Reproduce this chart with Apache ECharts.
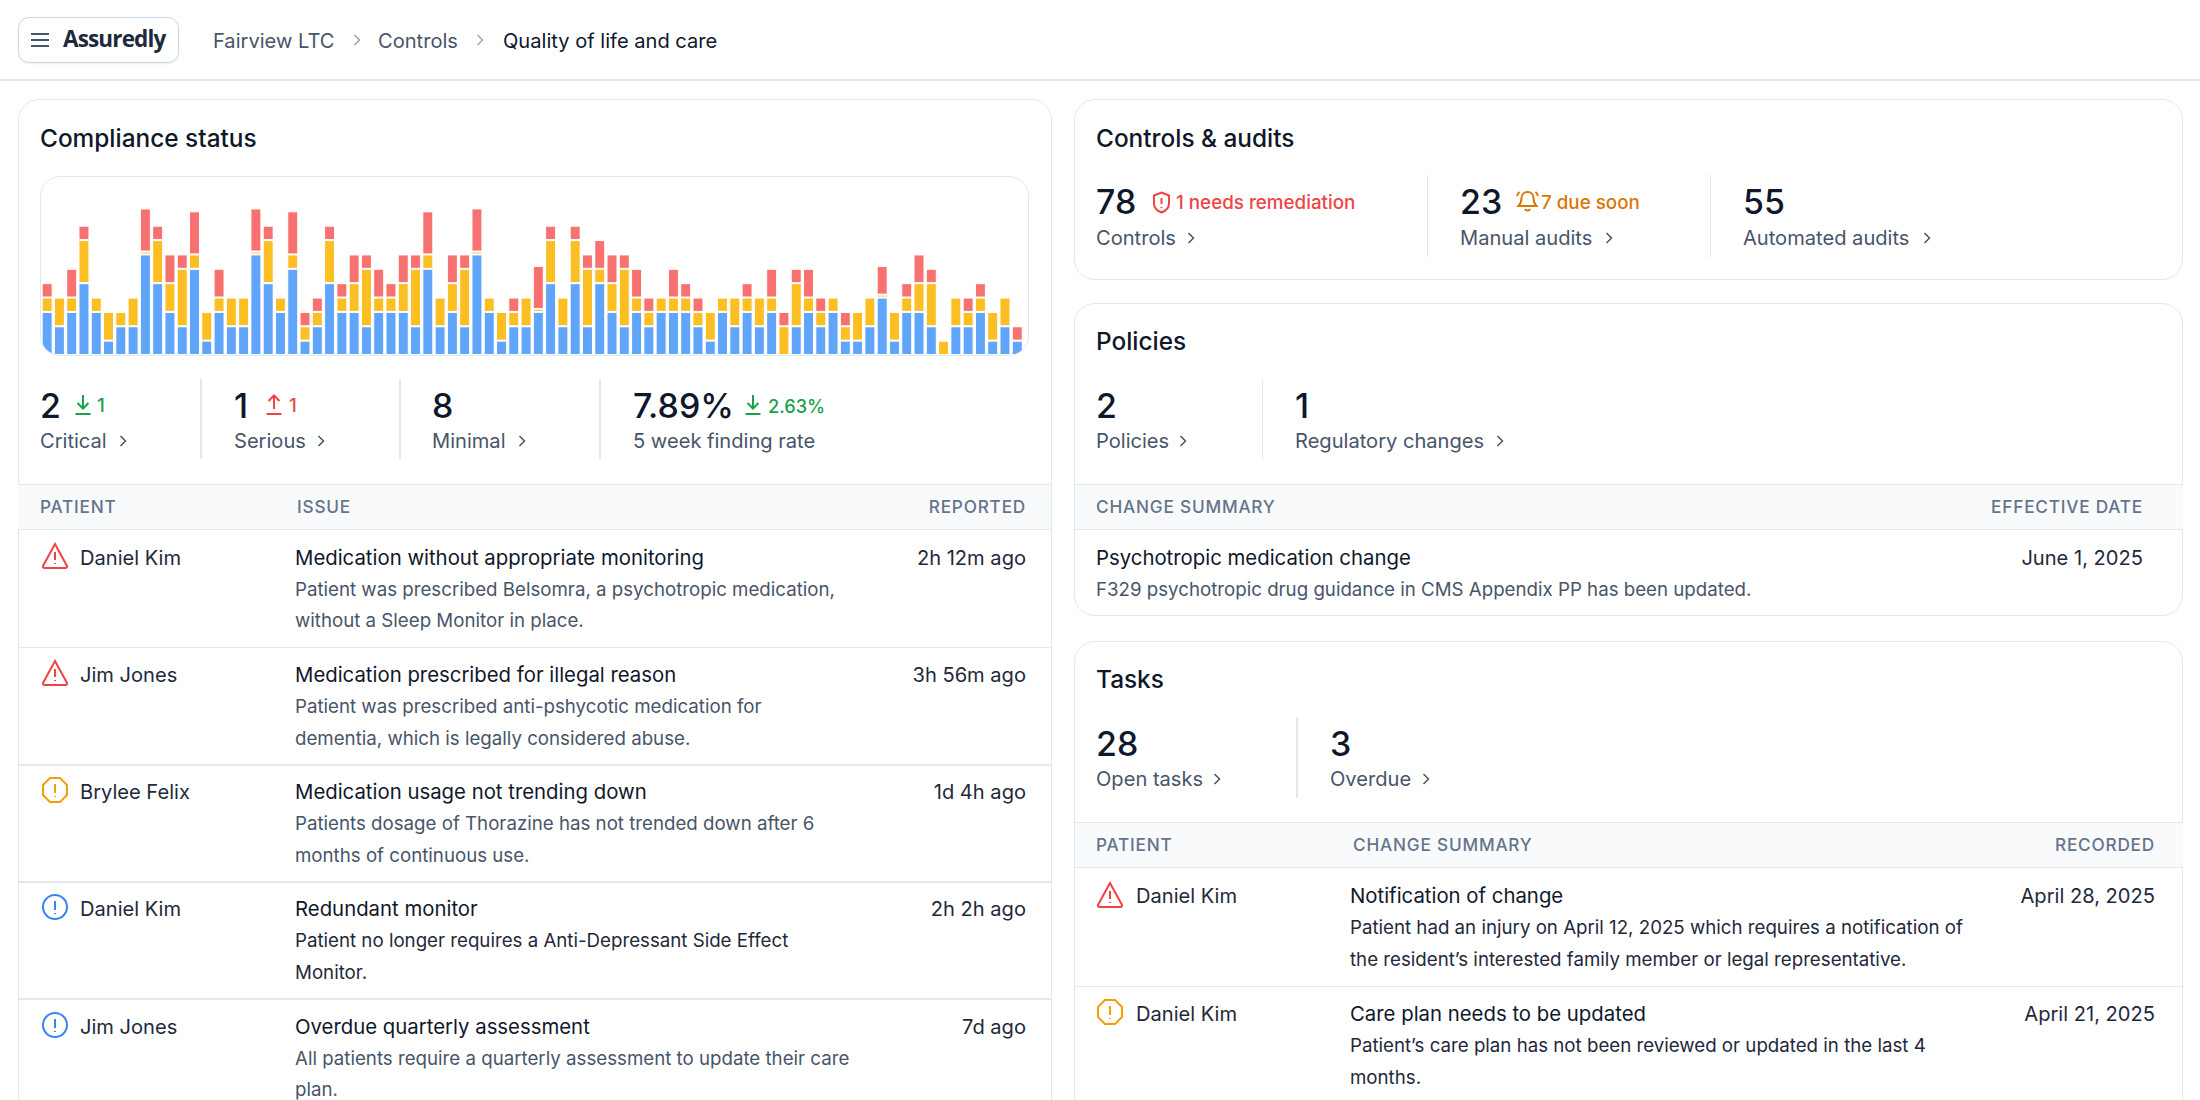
<!DOCTYPE html>
<html>
<head>
<meta charset="utf-8">
<title>Assuredly - Quality of life and care</title>
<script src="https://cdn.jsdelivr.net/npm/echarts@6/dist/echarts.min.js"></script>
<style>
  html, body { margin: 0; padding: 0; width: 2200px; height: 1100px; overflow: hidden; background: #fff; }
  body { font-family: Inter, "Noto Sans", sans-serif; color: #0f172a; position: relative; }
  .t { position: absolute; white-space: nowrap; transform: translateY(-50%); line-height: 1; font-size: 20.1px; }
  .r { text-align: right; }
  .title { font-size: 24.4px; font-weight: 500; }
  .num { font-size: 33.9px; font-weight: 500; }
  .label { color: #475569; }
  .head { font-size: 17.2px; font-weight: 500; letter-spacing: 0.8px; color: #64748b; }
  .name { color: #1e293b; }
  .issue { font-size: 20.35px; }
  .sub { font-size: 18.7px; color: #475569; }
  .dark { color: #1e293b; }
  .delta { font-size: 18.8px; font-weight: 500; }
  .green { color: #16a34a; }
  .red { color: #ef4444; }
  .orange { color: #d97706; }
  .card { position: absolute; box-sizing: border-box; border: 1.5px solid #e2e8f0; border-radius: 21px; background: #fff; }
  .hline { position: absolute; height: 1.5px; background: #e2e8f0; }
  .vline { position: absolute; width: 1.5px; background: #e2e8f0; }
  .band { position: absolute; background: #f8fafc; border-top: 1.5px solid #e2e8f0; border-bottom: 1.5px solid #e2e8f0; box-sizing: border-box; }
  svg { position: absolute; fill: none; }
  #frame { position: absolute; left: 40px; top: 176px; width: 989px; height: 180px; box-sizing: border-box; border: 1.5px solid #e2e8f0; border-radius: 20px; overflow: hidden; }
  #chart { position: absolute; left: 0; top: 0; width: 986px; height: 178px; }
</style>
</head>
<body>

<!-- top bar -->
<div class="hline" style="left:0;right:0;top:79px"></div>
<div style="position:absolute;left:18px;top:17px;width:161px;height:46px;box-sizing:border-box;border:1.5px solid #cbd5e1;border-radius:11px;box-shadow:0 1px 2px rgba(15,23,42,.08)"></div>
<svg style="left:31px;top:32px" width="18" height="16" stroke="#475569" stroke-width="2"><path d="M0 2h18M0 8h18M0 14h18"/></svg>
<div class="t" style="left:63px;top:39px;font-family:'Open Sans';font-size:22.5px;font-weight:700;letter-spacing:-0.85px;color:#1e293b">Assuredly</div>
<div class="t label" style="left:213px;top:40.500px">Fairview LTC</div>
<svg style="left:353px;top:34px" width="8" height="12" stroke="#94a3b8" stroke-width="1.5"><path d="M1.500 1l5 5-5 5"/></svg>
<div class="t label" style="left:378px;top:40.500px">Controls</div>
<svg style="left:476px;top:34px" width="8" height="12" stroke="#94a3b8" stroke-width="1.5"><path d="M1.500 1l5 5-5 5"/></svg>
<div class="t" style="left:503px;top:40.500px">Quality of life and care</div>

<!-- compliance status card -->
<div class="card" style="left:17.5px;top:99px;width:1034px;height:1040px"></div>
<div class="t title" style="left:40px;top:137.500px">Compliance status</div>
<div id="frame"><div id="chart"></div></div>

<div class="t num" style="left:40px;top:406px">2</div>
<svg style="left:74px;top:394px" width="18" height="22" stroke="#16a34a" stroke-width="2"><path d="M9 1v13M3.500 9L9 14.500 14.500 9M1.500 20h15"/></svg>
<div class="t delta green" style="left:97px;top:406px">1</div>
<div class="t label" style="left:40px;top:441px">Critical</div>
<svg style="left:119px;top:435px" width="8" height="12" stroke="#475569" stroke-width="1.5"><path d="M1.500 1l5 5-5 5"/></svg>
<div class="vline" style="left:200px;top:379px;height:80px"></div>

<div class="t num" style="left:234px;top:406px">1</div>
<svg style="left:265px;top:394px" width="18" height="22" stroke="#ef4444" stroke-width="2"><path d="M9 15V2M3.500 7L9 1.500 14.500 7M1.500 20h15"/></svg>
<div class="t delta red" style="left:289px;top:406px">1</div>
<div class="t label" style="left:234px;top:441px">Serious</div>
<svg style="left:317px;top:435px" width="8" height="12" stroke="#475569" stroke-width="1.5"><path d="M1.500 1l5 5-5 5"/></svg>
<div class="vline" style="left:399px;top:379px;height:80px"></div>

<div class="t num" style="left:432px;top:406px">8</div>
<div class="t label" style="left:432px;top:441px">Minimal</div>
<svg style="left:518px;top:435px" width="8" height="12" stroke="#475569" stroke-width="1.5"><path d="M1.500 1l5 5-5 5"/></svg>
<div class="vline" style="left:599px;top:379px;height:80px"></div>

<div class="t num" style="left:633px;top:406px">7.89%</div>
<svg style="left:744px;top:394px" width="18" height="22" stroke="#16a34a" stroke-width="2"><path d="M9 1v13M3.500 9L9 14.500 14.500 9M1.500 20h15"/></svg>
<div class="t delta green" style="left:768px;top:406px;font-size:18.2px">2.63%</div>
<div class="t label" style="left:633px;top:441px">5 week finding rate</div>

<div class="band" style="left:18px;top:484px;width:1033px;height:46px"></div>
<div class="t head" style="left:40px;top:507px">PATIENT</div>
<div class="t head" style="left:297px;top:507px">ISSUE</div>
<div class="t head r" style="right:1174px;top:507px">REPORTED</div>

<svg style="left:41px;top:542px" width="28" height="28" stroke="#ef4444" stroke-width="2"><path d="M14 2L26 24a1.500 1.500 0 0 1-1.500 2h-21a1.500 1.500 0 0 1-1.500-2z M14 10v8M14 21v1"/></svg>
<div class="t name" style="left:80px;top:558px">Daniel Kim</div>
<div class="t issue" style="left:295px;top:558px">Medication without appropriate monitoring</div>
<div class="t sub" style="left:295px;top:589.500px">Patient was prescribed Belsomra, a psychotropic medication,</div>
<div class="t sub" style="left:295px;top:620.500px">without a Sleep Monitor in place.</div>
<div class="t r name" style="right:1174px;top:558px">2h 12m ago</div>
<div class="hline" style="left:18px;width:1033px;top:646.500px"></div>

<svg style="left:41px;top:659px" width="28" height="28" stroke="#ef4444" stroke-width="2"><path d="M14 2L26 24a1.500 1.500 0 0 1-1.500 2h-21a1.500 1.500 0 0 1-1.500-2z M14 10v8M14 21v1"/></svg>
<div class="t name" style="left:80px;top:675px">Jim Jones</div>
<div class="t issue" style="left:295px;top:675px">Medication prescribed for illegal reason</div>
<div class="t sub" style="left:295px;top:706.500px">Patient was prescribed anti-pshycotic medication for</div>
<div class="t sub" style="left:295px;top:738.500px">dementia, which is legally considered abuse.</div>
<div class="t r name" style="right:1174px;top:675px">3h 56m ago</div>
<div class="hline" style="left:18px;width:1033px;top:764px"></div>

<svg style="left:41px;top:776px" width="28" height="28" stroke="#f59e0b" stroke-width="2"><path d="M9 2h10l7 7v10l-7 7H9l-7-7V9z M14 8v9M14 20v1"/></svg>
<div class="t name" style="left:80px;top:792px">Brylee Felix</div>
<div class="t issue" style="left:295px;top:792px">Medication usage not trending down</div>
<div class="t sub" style="left:295px;top:823.500px">Patients dosage of Thorazine has not trended down after 6</div>
<div class="t sub" style="left:295px;top:855.500px">months of continuous use.</div>
<div class="t r name" style="right:1174px;top:792px">1d 4h ago</div>
<div class="hline" style="left:18px;width:1033px;top:881px"></div>

<svg style="left:41px;top:893px" width="28" height="28" stroke="#3b82f6" stroke-width="2"><circle cx="14" cy="14" r="12"/><path d="M14 8v9M14 20v1"/></svg>
<div class="t name" style="left:80px;top:909px">Daniel Kim</div>
<div class="t issue" style="left:295px;top:909px">Redundant monitor</div>
<div class="t sub dark" style="left:295px;top:940.500px">Patient no longer requires a Anti-Depressant Side Effect</div>
<div class="t sub dark" style="left:295px;top:972.500px">Monitor.</div>
<div class="t r name" style="right:1174px;top:909px">2h 2h ago</div>
<div class="hline" style="left:18px;width:1033px;top:998px"></div>

<svg style="left:41px;top:1011px" width="28" height="28" stroke="#3b82f6" stroke-width="2"><circle cx="14" cy="14" r="12"/><path d="M14 8v9M14 20v1"/></svg>
<div class="t name" style="left:80px;top:1027px">Jim Jones</div>
<div class="t issue" style="left:295px;top:1027px">Overdue quarterly assessment</div>
<div class="t sub" style="left:295px;top:1058.500px">All patients require a quarterly assessment to update their care</div>
<div class="t sub" style="left:295px;top:1089.500px">plan.</div>
<div class="t r name" style="right:1174px;top:1027px">7d ago</div>

<!-- controls and audits card -->
<div class="card" style="left:1074px;top:99px;width:1109px;height:181px"></div>
<div class="t title" style="left:1096px;top:137.500px">Controls &amp; audits</div>
<div class="t num" style="left:1096px;top:202px">78</div>
<svg style="left:1152px;top:191px" width="19" height="23" stroke="#ef4444" stroke-width="2"><path d="M9.500 1.500l7.500 3v8c0 4.500-3.500 7.500-7.500 9-4-1.500-7.500-4.500-7.500-9v-8z M9.500 7v6M9.500 16v1"/></svg>
<div class="t delta red" style="left:1176px;top:203px">1 needs remediation</div>
<div class="t label" style="left:1096px;top:238px">Controls</div>
<svg style="left:1187px;top:232px" width="8" height="12" stroke="#475569" stroke-width="1.5"><path d="M1.500 1l5 5-5 5"/></svg>
<div class="vline" style="left:1426.500px;top:175px;height:82px"></div>
<div class="t num" style="left:1460px;top:202px">23</div>
<svg style="left:1515px;top:190px" width="25" height="24" stroke="#d97706" stroke-width="2"><path d="M12.500 2c-4 0-6 3-6 6 0 5-2 7-3 8h18c-1-1-3-3-3-8 0-3-2-6-6-6z M10 19c.5 2 4.500 2 5 0 M2 6c.5-1.500 1-3 2.500-4M23 6c-.5-1.500-1-3-2.500-4"/></svg>
<div class="t delta orange" style="left:1541px;top:203px">7 due soon</div>
<div class="t label" style="left:1460px;top:238px">Manual audits</div>
<svg style="left:1605px;top:232px" width="8" height="12" stroke="#475569" stroke-width="1.5"><path d="M1.500 1l5 5-5 5"/></svg>
<div class="vline" style="left:1709.500px;top:175px;height:82px"></div>
<div class="t num" style="left:1743px;top:202px">55</div>
<div class="t label" style="left:1743px;top:238px">Automated audits</div>
<svg style="left:1923px;top:232px" width="8" height="12" stroke="#475569" stroke-width="1.5"><path d="M1.500 1l5 5-5 5"/></svg>

<!-- policies card -->
<div class="card" style="left:1074px;top:302.500px;width:1109px;height:313px"></div>
<div class="t title" style="left:1096px;top:340.500px">Policies</div>
<div class="t num" style="left:1096px;top:406px">2</div>
<div class="t label" style="left:1096px;top:441px">Policies</div>
<svg style="left:1179px;top:435px" width="8" height="12" stroke="#475569" stroke-width="1.5"><path d="M1.500 1l5 5-5 5"/></svg>
<div class="vline" style="left:1261.500px;top:379px;height:80px"></div>
<div class="t num" style="left:1295px;top:406px">1</div>
<div class="t label" style="left:1295px;top:441px">Regulatory changes</div>
<svg style="left:1496px;top:435px" width="8" height="12" stroke="#475569" stroke-width="1.5"><path d="M1.500 1l5 5-5 5"/></svg>
<div class="band" style="left:1074.500px;top:484px;width:1108px;height:46px"></div>
<div class="t head" style="left:1096px;top:507px">CHANGE SUMMARY</div>
<div class="t head r" style="right:57px;top:507px">EFFECTIVE DATE</div>
<div class="t issue" style="left:1096px;top:558px">Psychotropic medication change</div>
<div class="t sub" style="left:1096px;top:589.500px">F329 psychotropic drug guidance in CMS Appendix PP has been updated.</div>
<div class="t r name" style="right:57px;top:558px">June 1, 2025</div>

<!-- tasks card -->
<div class="card" style="left:1074px;top:640.500px;width:1109px;height:500px"></div>
<div class="t title" style="left:1096px;top:678.500px">Tasks</div>
<div class="t num" style="left:1096px;top:744px">28</div>
<div class="t label" style="left:1096px;top:779px">Open tasks</div>
<svg style="left:1213px;top:773px" width="8" height="12" stroke="#475569" stroke-width="1.5"><path d="M1.500 1l5 5-5 5"/></svg>
<div class="vline" style="left:1296px;top:717px;height:81px"></div>
<div class="t num" style="left:1330px;top:744px">3</div>
<div class="t label" style="left:1330px;top:779px">Overdue</div>
<svg style="left:1422px;top:773px" width="8" height="12" stroke="#475569" stroke-width="1.5"><path d="M1.500 1l5 5-5 5"/></svg>
<div class="band" style="left:1074.500px;top:822px;width:1108px;height:46px"></div>
<div class="t head" style="left:1096px;top:845px">PATIENT</div>
<div class="t head" style="left:1353px;top:845px">CHANGE SUMMARY</div>
<div class="t head r" style="right:45px;top:845px">RECORDED</div>

<svg style="left:1096px;top:881px" width="28" height="28" stroke="#ef4444" stroke-width="2"><path d="M14 2L26 24a1.500 1.500 0 0 1-1.500 2h-21a1.500 1.500 0 0 1-1.500-2z M14 10v8M14 21v1"/></svg>
<div class="t name" style="left:1136px;top:896px">Daniel Kim</div>
<div class="t issue" style="left:1350px;top:896px">Notification of change</div>
<div class="t sub dark" style="left:1350px;top:927.500px">Patient had an injury on April 12, 2025 which requires a notification of</div>
<div class="t sub dark" style="left:1350px;top:960px">the resident’s interested family member or legal representative.</div>
<div class="t r name" style="right:45px;top:896px">April 28, 2025</div>
<div class="hline" style="left:1074.500px;width:1108px;top:985.500px"></div>

<svg style="left:1096px;top:998px" width="28" height="28" stroke="#f59e0b" stroke-width="2"><path d="M9 2h10l7 7v10l-7 7H9l-7-7V9z M14 8v9M14 20v1"/></svg>
<div class="t name" style="left:1136px;top:1014px">Daniel Kim</div>
<div class="t issue" style="left:1350px;top:1014px">Care plan needs to be updated</div>
<div class="t sub dark" style="left:1350px;top:1045.500px">Patient’s care plan has not been reviewed or updated in the last 4</div>
<div class="t sub dark" style="left:1350px;top:1077.500px">months.</div>
<div class="t r name" style="right:45px;top:1014px">April 21, 2025</div>

<script>
// findings per week slot (0.2 = the hairline segments)
var blueValues = [3,2,3,5,3,1,2,2,7,5,3,2,6,1,3,2,2,7,5,3,6,1,2,5,3,3,2,3,3,3,2,6,2,3,2,7,3,1,2,2,3,5,2,5,2,5,3,2,3,2,3,3,3,2,1,3,2,3,2,3,0,2,3,2,3,1,1,2,4,1,3,3,2,0,2,2,3,1,2,1];
var yellowValues = [1,2,1,3,1,2,1,2,0.2,3,2,4,1,2,1,2,2,0.2,3,1,1,1,1,3,1,2,4,1,1,2,4,1,2,2,4,0.2,1,2,1,2,0.2,3,2,3,4,1,2,4,1,1,1,1,1,1,2,1,2,1,2,1,2,3,1,1,1,1,2,2,0.2,2,1,2,3,1,2,1,1,2,2,0];
var redValues = [1,0,2,1,0,0,0,0,3,1,2,1,3,0,2,0,0,3,1,0,3,1,1,1,1,2,1,2,1,2,1,3,0,2,1,3,0,0,1,0,3,1,0,1,1,2,2,1,2,1,0,2,1,1,0,0,0,1,0,2,1,1,2,1,0,1,0,0,2,0,1,2,1,0,0,1,1,0,0,1];
var categories = blueValues.map(function (v, i) { return String(i + 1); });

var myChart = echarts.init(document.getElementById('chart'), null, { renderer: 'canvas' });

function barSeries(name, values, color) {
    return {
        name: name,
        type: 'bar',
        stack: 'findings',
        data: values,
        barWidth: 11,
        itemStyle: { color: color, borderColor: '#ffffff', borderWidth: 1 },
        silent: true
    };
}

myChart.setOption({
    animation: false,
    grid: { left: 0, top: 0, width: 982.4, bottom: 0 },
    xAxis: { type: 'category', data: categories, show: false },
    yAxis: { type: 'value', min: 0, max: 12.39, show: false },
    series: [
        barSeries('Minimal', blueValues, '#60a5fa'),
        barSeries('Serious', yellowValues, '#fbbf24'),
        barSeries('Critical', redValues, '#f87171')
    ]
});
</script>
</body>
</html>
